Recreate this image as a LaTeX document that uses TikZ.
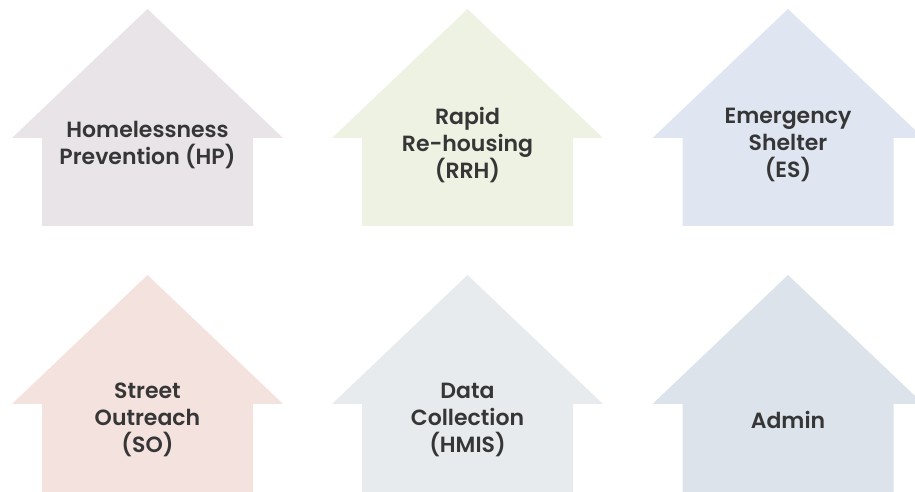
\documentclass[tikz,border=0pt]{standalone}
\usepackage{fontspec}
\setmainfont{Poppins}[BoldFont = Poppins SemiBold]
\usetikzlibrary{positioning}
\definecolor{hpfill}{HTML}{E8E4E8}
\definecolor{rrhfill}{HTML}{EEF2E3}
\definecolor{esfill}{HTML}{DFE6F2}
\definecolor{sofill}{HTML}{F4E2DF}
\definecolor{hmisfill}{HTML}{E8EBED}
\definecolor{adminfill}{HTML}{DCE3EB}
\definecolor{labeltext}{HTML}{363636}
\tikzset{
every node/.style = {inner sep = 0pt},
pics/house/.style = {code = {
	\fill [#1] (-105.5,0) -- (-105.5,88) -- (-135.5,88) -- (0,217)
		-- (135.5,88) -- (105.5,88) -- (105.5,0) -- cycle;}},
program/.style = {font = \bfseries\fontsize{22}{27}\selectfont, text = labeltext,
	align = center}
}
\begin{document}
\begin{tikzpicture}[x = 1pt, y = 1pt]
\useasboundingbox (0,0) rectangle (915,492);

%% The houses, top row
\pic at (147.5,266) {house = hpfill};
\pic at (467.5,266) {house = rrhfill};
\pic at (788,266) {house = esfill};

%% The houses, bottom row
\pic at (147.5,0) {house = sofill};
\pic at (467.5,0) {house = hmisfill};
\pic at (788,0) {house = adminfill};

%% The program labels
\node [program] (HP) at (147.5,347) {Homelessness\\Prevention (HP)};
\node [program] (RRH) at (467.5,347) {Rapid\\Re-housing\\(RRH)};
\node [program] (ES) at (788,347) {Emergency\\Shelter\\(ES)};
\node [program] (SO) at (147.5,72) {Street\\Outreach\\(SO)};
\node [program] (HMIS) at (467.5,72) {Data\\Collection\\(HMIS)};
\node [program] (admin) at (788,72) {Admin};

\end{tikzpicture}
\end{document}
